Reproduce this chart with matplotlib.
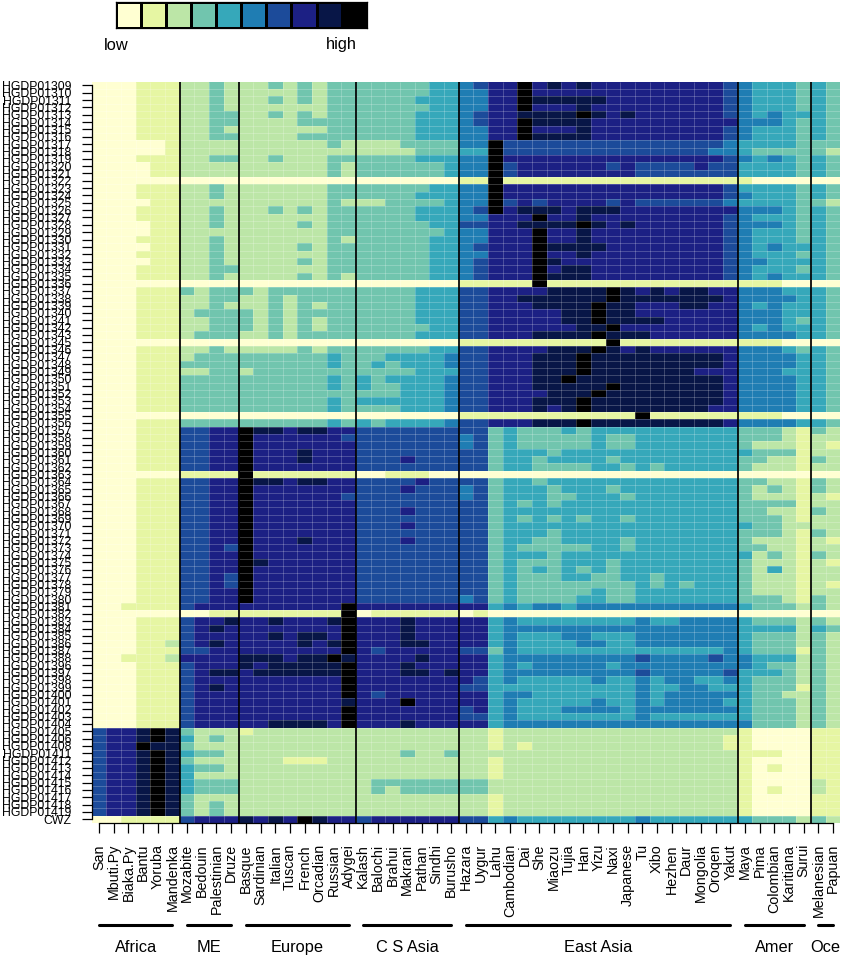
import numpy as np
import matplotlib
matplotlib.use('Agg')
import matplotlib.pyplot as plt
from matplotlib.colors import ListedColormap

plt.rcParams['font.family'] = ['Liberation Sans', 'DejaVu Sans']

FIG_W, FIG_H = 842, 955

palette = ['#FFFFD2', '#E6F6A3', '#BCE6A7', '#71C5AE', '#36A8BA',
           '#1F7DB3', '#1C4B9A', '#1C2084', '#081647', '#000000']

populations = ['San', 'Mbuti.Py', 'Biaka.Py', 'Bantu', 'Yoruba', 'Mandenka',
               'Mozabite', 'Bedouin', 'Palestinian', 'Druze',
               'Basque', 'Sardinian', 'Italian', 'Tuscan', 'French', 'Orcadian', 'Russian', 'Adygei',
               'Kalash', 'Balochi', 'Brahui', 'Makrani', 'Pathan', 'Sindhi', 'Burusho',
               'Hazara', 'Uygur', 'Lahu', 'Cambodian', 'Dai', 'She', 'Miaozu', 'Tujia', 'Han', 'Yizu',
               'Naxi', 'Japanese', 'Tu', 'Xibo', 'Hezhen', 'Daur', 'Mongolia', 'Oroqen', 'Yakut',
               'Maya', 'Pima', 'Colombian', 'Karitiana', 'Surui',
               'Melanesian', 'Papuan']

group_names = ['Africa', 'ME', 'Europe', 'C S Asia', 'East Asia', 'Amer', 'Oce']
group_first = [0, 6, 10, 18, 25, 44, 49]
group_last = [5, 9, 17, 24, 43, 48, 50]

sample_numbers = (list(range(1309, 1344)) + list(range(1345, 1389))
                  + list(range(1396, 1407)) + [1408] + list(range(1411, 1420)))
sample_labels = ['HGDP0%d' % n for n in sample_numbers] + ['CWZ']

# one string per sample, groups: Africa, ME, Europe, C S Asia, East Asia, Amer, Oce
levels = [
    '000111 2232 22323233 3333344 5677978787777777776 54443 43',
    '000111 2232 22223233 3333344 5577977777777777776 54443 43',
    '000111 2232 22323233 3333444 5577988888777777776 54443 43',
    '000111 2232 22222233 3333344 5577977787777777776 54443 43',
    '000111 2233 22323233 3333444 5677888898787777776 54544 43',
    '000111 2233 22223333 3333444 5677988887777777777 55543 43',
    '000111 2232 22222233 3333444 5577977787777777776 54443 43',
    '000111 2233 22223333 3333444 5577988887777777776 54443 43',
    '000001 2222 22222232 2223333 5596666666666666665 44443 33',
    '000001 2222 22222222 2222333 4496666666666666655 43333 32',
    '000111 2233 22322233 3333444 5597777777777777776 54543 43',
    '000011 2222 22222232 3333334 5596777777676666766 44443 43',
    '000011 2222 22222232 3333334 5596777777776666666 44443 43',
    '000000 0000 00000000 0000000 1191111111111111111 10000 00',
    '000111 2232 22222233 3333344 5597777777777777776 44443 43',
    '000111 2232 22222233 3333444 5597777777777777776 54443 43',
    '000011 2222 22222232 2233334 5596767777676666665 44443 32',
    '000111 2232 22323233 3333444 5697888788877777777 55543 43',
    '000111 2232 22222233 3333444 5577797787777777776 54443 43',
    '000011 2232 22223233 3333344 6677888898787777776 55543 43',
    '000011 2222 22222233 3333334 5577797787777777776 54443 43',
    '000111 2232 22222232 3333344 5577797787777777776 54443 43',
    '000011 2232 22223233 3333344 5677798888777777776 54544 43',
    '000111 2232 22222233 3333344 5577797787777777776 54443 43',
    '000011 2232 22223233 3333344 5677798777777777776 55444 43',
    '000111 2233 22222233 3333344 5677797887777777776 54443 43',
    '000111 2232 22223232 3333344 5677798887777777776 54544 43',
    '000000 0000 00000000 0000000 1111191111111111111 11100 00',
    '000111 3233 32333333 3333444 6677778888987878877 55544 43',
    '000111 2233 22323333 3333444 6677888888988888887 55554 43',
    '000111 2232 22323233 3333444 6677788889887778877 54544 43',
    '000111 2333 32323333 3333444 6677777889887777777 55544 43',
    '000111 2233 32323233 3333444 6677777889888877777 55543 43',
    '000111 2233 32323233 3333344 6677777788977777777 54544 43',
    '000111 2333 22323333 3333444 6677788889888777777 55554 43',
    '000000 0000 00000000 0000000 1111111111911111111 11100 00',
    '000111 2232 22223233 3333344 6677778889878777777 55543 43',
    '000111 2333 33333343 3344445 6677788898888888887 55554 43',
    '000111 3333 33333343 3434445 6677788898888888887 55554 43',
    '000111 2233 23333333 3333444 6677788898888888777 55544 43',
    '000111 3333 33333343 4344445 6677788988888888887 55554 43',
    '000111 3333 33333343 4334445 6677788888988888887 55554 43',
    '000111 3333 33333333 3334445 6677778889888888887 55554 43',
    '000111 3333 33333343 4444445 6677788898888888887 55554 43',
    '000111 3333 33333343 3334445 6677787898888888877 55554 43',
    '000000 0000 00000000 0000000 1111111111119111111 11100 00',
    '000111 3333 33333343 4344445 6677788898888888887 55554 43',
    '000111 6677 98878877 6666666 6634333434444444444 33321 32',
    '000111 6677 97777776 6666666 5634333334334444444 33321 22',
    '000111 6677 97777777 6666666 5634333334334444444 32221 21',
    '000111 6677 97778777 6666666 6634443444444444444 43331 22',
    '000111 6677 97778777 6667666 6634434444344444444 33221 32',
    '000111 6677 97777777 6666666 6634433334434344444 32221 22',
    '000000 1111 91111111 0011100 0000000000000000000 00000 00',
    '000111 6677 98878877 6666766 6634434444444444444 33221 32',
    '000111 6677 97777777 6667666 5634443444344444444 32321 32',
    '000111 6677 97777776 6666666 5634443344434444444 32221 21',
    '000111 6677 97777777 6666666 6634343444444444444 33331 22',
    '000111 6677 97777777 6667666 6634444444444444444 33221 32',
    '000111 6677 97777777 6666666 6634343434434444444 33321 22',
    '000111 6677 97777777 6667666 6634444444444444444 43322 22',
    '000111 6677 97777777 6666666 6634443444444444444 33321 32',
    '000111 6677 97778777 6667666 6634433444434444444 32221 21',
    '000111 6676 97777777 6666666 6634333334434444444 33221 22',
    '000111 6677 97777777 6666666 6634443444444444444 42321 32',
    '000111 6677 98777777 6666666 6634333444344444444 32221 21',
    '000111 6677 97777777 6666666 6634343434344444444 32421 22',
    '000111 6676 97777777 6666666 6634333443344344444 32221 22',
    '000111 6676 97777777 6666666 6634333333334343444 32221 21',
    '000111 6677 97777777 6666666 6634333334334444444 32221 22',
    '000111 6677 97777777 6666666 5634333344334444444 33321 32',
    '001111 6777 77777779 7777777 7745455455555555555 43332 32',
    '000000 0011 11111119 0111111 0100000000000000000 00000 00',
    '000111 6778 77877789 7778777 7745444444445445555 43332 32',
    '000111 6787 77777779 7778777 7745555555555555555 44442 43',
    '000111 6777 77878879 7778777 7745444554445555555 43332 32',
    '000112 6787 77778789 7778877 7745444455445555555 43332 32',
    '000111 6677 77777779 7677777 6635444444444444445 43331 32',
    '001112 7777 88878898 7777877 7745555555556555565 54442 32',
    '000111 6777 87888889 7778777 7745455555455555555 54332 32',
    '000111 6788 78888889 7778878 7745555555556555556 44432 32',
    '000111 6777 77777779 7777777 7645444445445455445 43332 32',
    '000111 6787 77777779 7777777 6644444444445445544 43331 32',
    '000111 6777 77777779 7677777 7745544444445455555 43322 32',
    '000111 6777 77777778 7779777 7745444445445455554 43332 32',
    '000111 6777 77777779 7777777 6745444555545555555 43332 32',
    '000111 6777 77777779 7777777 6645444444445444444 43332 32',
    '000111 6777 77888879 7778777 7745555555555555555 53332 32',
    '677898 3222 12222222 2222222 2212222222222222222 10000 11',
    '677898 4232 22222222 2222222 2212222222222222221 10000 11',
    '677988 3222 22222222 2222222 2212122222222222221 10000 11',
    '677898 4332 22222222 2223223 2222222222222222222 11100 11',
    '677898 3222 22211122 2222222 2212222222222222222 10000 11',
    '677898 4332 22222222 2222222 2212222222222222222 10100 11',
    '677898 4222 22222222 2222222 2212222222222222222 10000 11',
    '677898 4333 22222222 2333333 3322222222222222222 10000 21',
    '677898 4333 22222222 2323333 3322222222222222222 10100 21',
    '677898 3222 22222222 2222222 2212222222222222222 10000 11',
    '677898 3232 22222222 2222222 2212222222222222222 10000 11',
    '677898 3232 22222222 2222222 2212222222222222222 10000 11',
    '001111 6777 87879877 6777777 6645444444445444444 43332 32',
]

heat = np.array([[int(c) for c in row.replace(' ', '')] for row in levels])
n_rows, n_cols = heat.shape
cmap = ListedColormap(palette)


def pixel_axes(left, top, width, height):
    return [left / FIG_W, (FIG_H - top - height) / FIG_H, width / FIG_W, height / FIG_H]


fig = plt.figure(figsize=(FIG_W / 100, FIG_H / 100), dpi=100)

# Main heatmap
ax = fig.add_axes(pixel_axes(91.7, 81.7, 748.7, 741.3))
ax.pcolormesh(np.arange(n_cols + 1), np.arange(n_rows + 1), heat, cmap=cmap, vmin=-0.5, vmax=9.5)
ax.set_xlim(0, n_cols)
ax.set_ylim(n_rows, 0)

# Faint cell borders
ax.hlines(np.arange(1, n_rows), 0, n_cols, color='white', alpha=0.22, lw=0.7)
ax.vlines(np.arange(1, n_cols), 0, n_rows, color='white', alpha=0.22, lw=0.7)

# Group separators
ax.vlines(group_first[1:], 0, n_rows, color='black', lw=1.25)

# Axes
for side in ['top', 'right']:
    ax.spines[side].set_visible(False)
ax.spines['left'].set_bounds(0.5, n_rows - 0.5)
ax.spines['bottom'].set_bounds(0.5, n_cols - 0.5)
ax.spines['left'].set_linewidth(0.9)
ax.spines['bottom'].set_linewidth(0.9)

ax.set_yticks(np.arange(n_rows) + 0.5)
ax.set_yticklabels(sample_labels, fontsize=8.8)
ax.set_xticks(np.arange(n_cols) + 0.5)
ax.set_xticklabels(populations, fontsize=10.3, rotation=90)
ax.tick_params(axis='y', length=7.2, width=0.9, pad=7.2)
ax.tick_params(axis='x', length=7.2, width=0.9, pad=8)

# Group bars and names below the tick labels
trans = ax.get_xaxis_transform()
bar_y = (823 - 925) / 741.3
name_y = (823 - 947) / 741.3
for name, first, last in zip(group_names, group_first, group_last):
    ax.plot([first + 0.5, last + 0.5], [bar_y, bar_y], color='black', lw=2.2,
            solid_capstyle='round', transform=trans, clip_on=False)
    ax.text((first + last + 1) / 2, name_y, name, fontsize=11.8, ha='center', va='center',
            transform=trans, clip_on=False)

# Colour key
key = fig.add_axes(pixel_axes(116, 1.7, 250.7, 26.6))
key.pcolormesh(np.arange(len(palette) + 1), [0, 1], np.arange(len(palette)).reshape(1, -1),
               cmap=cmap, vmin=-0.5, vmax=9.5, edgecolors='black', linewidth=0.8)
key.set_xticks([])
key.set_yticks([])
for spine in key.spines.values():
    spine.set_linewidth(0.9)

fig.text(116 / FIG_W, 1 - 46 / FIG_H, 'low', fontsize=11.8, ha='center', va='center')
fig.text(341 / FIG_W, 1 - 45 / FIG_H, 'high', fontsize=11.8, ha='center', va='center')

fig.savefig('out.png', dpi=100)
